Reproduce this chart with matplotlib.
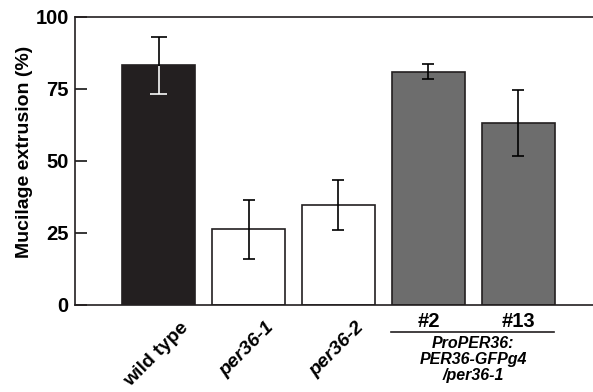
import matplotlib
matplotlib.use("Agg")
import matplotlib.pyplot as plt

plt.rcParams['font.family'] = ['Liberation Sans', 'DejaVu Sans']

# values
groups = ["wild type", "per36-1", "per36-2", "#2", "#13"]
means = [83.5, 26.3, 34.8, 81.0, 63.2]
err_up = [9.5, 10.2, 8.5, 2.6, 11.3]
err_down = [10.2, 10.3, 8.6, 2.6, 11.6]
fills = ["#231f20", "white", "white", "#6d6d6d", "#6d6d6d"]
construct = "ProPER36:\nPER36-GFPg4\n/per36-1"

fig = plt.figure(figsize=(5.93, 3.92), dpi=100)
ax = fig.add_axes([75 / 593, 1 - 305 / 392, 518 / 593, 288 / 392])

pos = list(range(len(groups)))
ax.bar(pos, means, width=0.81, color=fills, edgecolor="#231f20", linewidth=1.2, zorder=2)

caps = [6, 4.3, 4.3, 4.3, 4.3]
for i in pos:
    ax.errorbar(i, means[i], yerr=[[err_down[i]], [err_up[i]]], fmt="none", ecolor="black",
                elinewidth=1.2, capsize=caps[i], capthick=1.2, zorder=3)

# lower half of the wild type bar is drawn white over the dark fill
low = means[0] - err_down[0]
ax.vlines(0, low, means[0] - 0.4, color="white", lw=1.2, zorder=4)
ax.hlines(low, -0.092, 0.092, color="white", lw=1.2, zorder=4)

ax.set_xlim(-0.928, 4.828)
ax.set_ylim(0, 100)
ax.set_xticks([])
ax.set_yticks([0, 25, 50, 75, 100])
ax.set_yticklabels(["0", "25", "50", "75", "100"], fontsize=14.5, fontweight="bold")
ax.tick_params(axis="y", direction="in", length=8.6, width=1.1, pad=4.5)

for side in ["left", "bottom", "top"]:
    ax.spines[side].set_linewidth(1.2)
    ax.spines[side].set_color("#231f20")
ax.spines["right"].set_visible(False)

ax.set_ylabel("Mucilage extrusion (%)", fontsize=14, fontweight="bold")
ax.yaxis.set_label_coords(-0.081, 0.531)

# rotated labels under the first three bars
for i, dx in zip([0, 1, 2], [24, 21, 21]):
    ax.annotate(groups[i], xy=(i, 0), xycoords=("data", "axes fraction"),
                xytext=(dx, -10), textcoords="offset points",
                ha="right", va="top", rotation=45, fontsize=14, fontweight="bold",
                fontstyle="normal" if i == 0 else "italic")

# line numbers and construct name
for i in [3, 4]:
    ax.annotate(groups[i], xy=(i, 0), xycoords=("data", "axes fraction"),
                xytext=(0, -12), textcoords="offset points",
                ha="center", va="center", fontsize=14.5, fontweight="bold")

trans = ax.get_xaxis_transform()
ax.plot([2.583, 4.394], [-0.094, -0.094], color="#231f20", lw=1.2,
        transform=trans, clip_on=False)
ax.text(3.494, -0.107, construct, transform=trans, ha="center", va="top",
        fontsize=11.5, fontweight="bold", fontstyle="italic", linespacing=1.08)

fig.savefig("out.png", dpi=100)
